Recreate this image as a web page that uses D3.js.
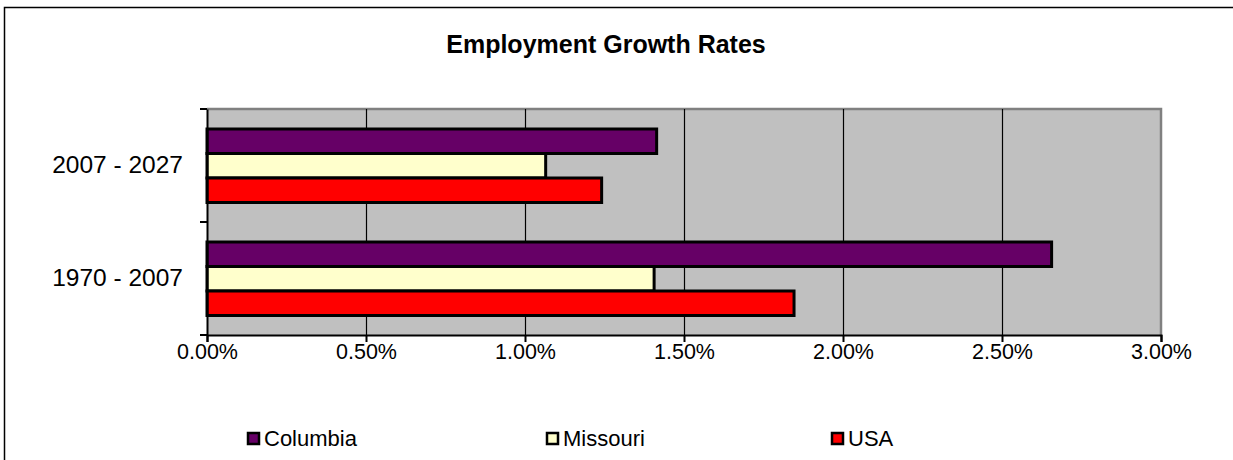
<!DOCTYPE html>
<html><head><meta charset="utf-8">
<script src="https://cdn.jsdelivr.net/npm/d3@7"></script>
<style>html,body{margin:0;padding:0;background:#fff;} svg{display:block;}</style>
</head><body>
<svg id="chart" width="1233" height="460"></svg>
<script>
const categories = ["2007 - 2027", "1970 - 2007"];
const seriesNames = ["Columbia", "Missouri", "USA"];
const columbia = [0.01414, 0.02656];
const missouri = [0.01065, 0.01406];
const usa = [0.01241, 0.01846];
const xTicks = [0, 0.005, 0.01, 0.015, 0.02, 0.025, 0.03];
const colors = ["#660066", "#FFFFCC", "#FF0000"];
const seriesValues = [columbia, missouri, usa];

const svg = d3.select("#chart");
const font = "Arial, 'Liberation Sans', sans-serif";
const plot = {left: 207, right: 1161, top: 109, bottom: 335};

svg.append("rect").attr("x", 4.5).attr("y", 7.5).attr("width", 1240).attr("height", 470)
  .attr("fill", "#fff").attr("stroke", "#000").attr("stroke-width", 1.5);

svg.append("text").attr("x", 606).attr("y", 53).attr("text-anchor", "middle")
  .attr("font-family", font).attr("font-weight", "bold").attr("font-size", 25)
  .text("Employment Growth Rates");

const x = d3.scaleLinear().domain([0, 0.03]).range([plot.left, plot.right]);
const y = d3.scaleBand().domain(categories).range([plot.top, plot.bottom]).padding(0);
const yInner = d3.scaleBand().domain(seriesNames).range([20, 93.5]).padding(0);

svg.append("rect").attr("x", plot.left).attr("y", plot.top)
  .attr("width", plot.right - plot.left).attr("height", plot.bottom - plot.top)
  .attr("fill", "#C0C0C0");
svg.append("path").attr("d", `M${plot.left},${plot.top}H${plot.right}V${plot.bottom}`)
  .attr("fill", "none").attr("stroke", "#808080").attr("stroke-width", 2.5);

svg.append("g").selectAll("line").data(xTicks.slice(1, -1)).join("line")
  .attr("x1", d => Math.round(x(d)) + 0.5).attr("x2", d => Math.round(x(d)) + 0.5)
  .attr("y1", plot.top).attr("y2", plot.bottom)
  .attr("stroke", "#000").attr("stroke-width", 1.2);

const rows = [];
categories.forEach((c, i) => seriesNames.forEach((s, j) => rows.push({c, s, v: seriesValues[j][i], color: colors[j]})));
svg.append("g").selectAll("rect").data(rows).join("rect")
  .attr("x", x(0))
  .attr("y", d => y(d.c) + yInner(d.s))
  .attr("width", d => x(d.v) - x(0))
  .attr("height", yInner.bandwidth())
  .attr("fill", d => d.color)
  .attr("stroke", "#000").attr("stroke-width", 3);

const xAxis = d3.axisBottom(x).tickValues(xTicks).tickFormat(d3.format(".2%")).tickSize(7).tickPadding(1);
const gx = svg.append("g").attr("transform", `translate(0,${plot.bottom})`).call(xAxis);
gx.select(".domain").attr("stroke", "#000").attr("stroke-width", 2);
gx.selectAll(".tick line").attr("stroke", "#000").attr("stroke-width", 2);
gx.selectAll("text").attr("font-family", font).attr("font-size", 21.5).attr("fill", "#000").attr("dy", "0.75em");

const yAxis = d3.axisLeft(y).tickSize(0).tickPadding(24);
const gy = svg.append("g").attr("transform", `translate(${plot.left},0)`).call(yAxis);
gy.select(".domain").attr("stroke", "#000").attr("stroke-width", 2);
gy.selectAll("text").attr("font-family", font).attr("font-size", 24.5).attr("fill", "#000");
const bounds = [plot.top, y(categories[1]), plot.bottom];
svg.append("g").selectAll("line").data(bounds).join("line")
  .attr("x1", plot.left - 7).attr("x2", plot.left).attr("y1", d => d).attr("y2", d => d)
  .attr("stroke", "#000").attr("stroke-width", 2);

const legendX = [247, 546, 831];
const lg = svg.append("g").selectAll("g").data(seriesNames).join("g")
  .attr("transform", (d, i) => `translate(${legendX[i]},432)`);
lg.append("rect").attr("x", 1).attr("y", 1).attr("width", 11).attr("height", 11)
  .attr("fill", (d, i) => colors[i]).attr("stroke", "#000").attr("stroke-width", 2.5);
lg.append("text").attr("x", 17).attr("y", 13.5).attr("font-family", font).attr("font-size", 22)
  .attr("fill", "#000").text(d => d);
</script>
</body></html>
